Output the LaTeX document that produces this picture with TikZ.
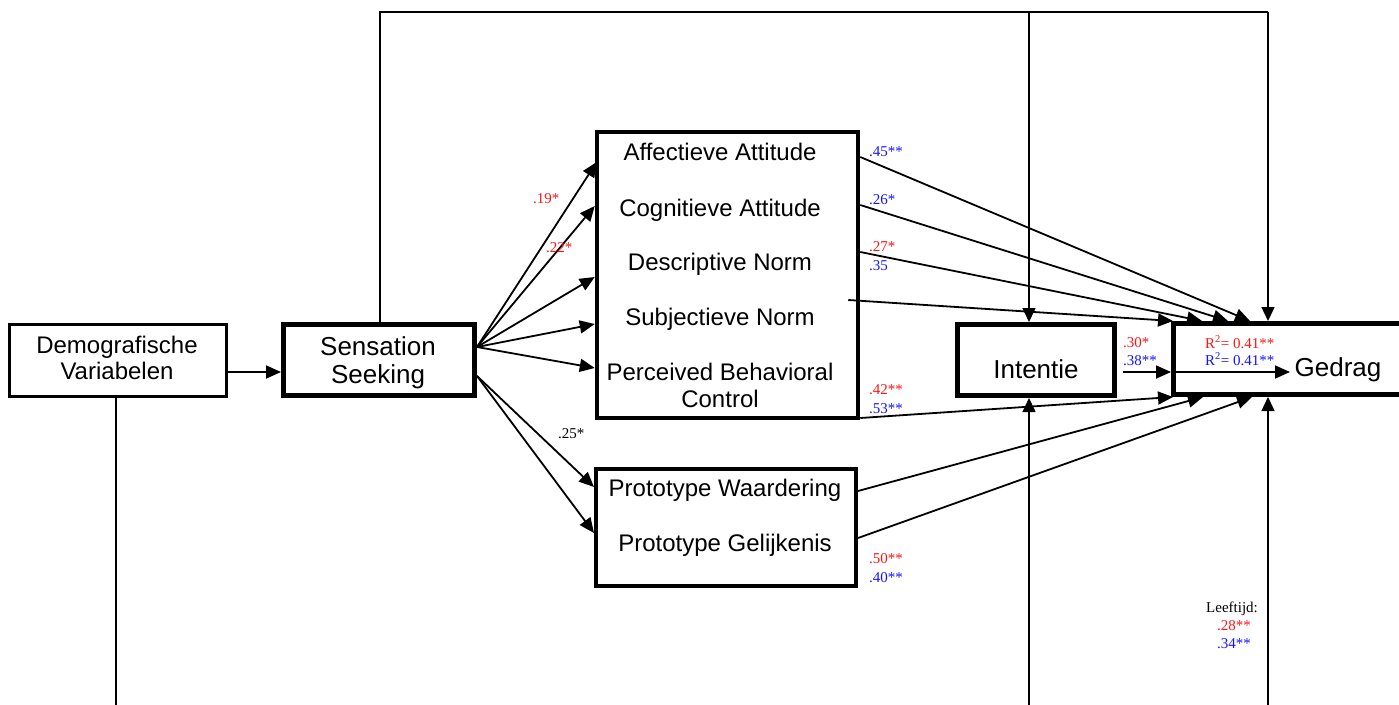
\documentclass[tikz,border=0pt]{standalone}
\usepackage{fontspec}
\setmainfont{Liberation Sans}
\newfontfamily\tms{Liberation Serif}
\usetikzlibrary{arrows.meta,calc}
\definecolor{lred}{RGB}{255,20,20}
\definecolor{lblue}{RGB}{20,20,255}
\begin{document}
\begin{tikzpicture}[x=1pt,y=-1pt,
  box/.style={draw, rectangle, inner sep=0pt, fill=white},
  txt/.style={font=\fontsize{24}{26}\selectfont, inner sep=0pt, anchor=base},
  bigtxt/.style={font=\fontsize{26}{28}\selectfont, inner sep=0pt, anchor=base},
  lab/.style={font=\tms\fontsize{15}{18}\selectfont, inner sep=0pt, anchor=base west},
  labc/.style={font=\tms\fontsize{15}{18}\selectfont, inner sep=0pt, anchor=base},
  arr/.style={-{Triangle[length=15pt,width=13pt]}, line width=1.8pt},
  lnarr/.style={-{Triangle[length=14pt,width=13pt]}, line width=1.5pt},
  ln/.style={line width=1.5pt}]
\useasboundingbox (0,0) rectangle (1399,704);
\clip (0,0) rectangle (1399,704);

% boxes
\node[box, line width=3pt, minimum width=217pt, minimum height=72pt] (demo) at (118,360) {};
\node[box, line width=5pt, minimum width=191pt, minimum height=71pt] (ss) at (379,360) {};
\node[box, line width=4.5pt, minimum width=261pt, minimum height=286pt] (att) at (727.5,275) {};
\node[box, line width=4pt, minimum width=260pt, minimum height=117pt] (proto) at (726,527.5) {};
\node[box, line width=5pt, minimum width=157pt, minimum height=71pt] (int) at (1036,360) {};
\node[box, line width=5pt, minimum width=247pt, minimum height=71pt] (ged) at (1297,359) {};

% texts
\node[txt] (demoA) at (117,353) {Demografische};
\node[txt] (demoB) at (117,379) {Variabelen};
\node[bigtxt] (ssA) at (378,355) {Sensation};
\node[bigtxt] (ssB) at (378,383) {Seeking};
\node[txt] (aa) at (720,160) {Affectieve Attitude};
\node[txt] (ca) at (720,216) {Cognitieve Attitude};
\node[txt] (dn) at (720,270) {Descriptive Norm};
\node[txt] (sn) at (720,325) {Subjectieve Norm};
\node[txt] (pbA) at (720,380) {Perceived Behavioral};
\node[txt] (pbB) at (720,407) {Control};
\node[txt] (pw) at (725,496) {Prototype Waardering};
\node[txt] (pg) at (725,551) {Prototype Gelijkenis};
\node[bigtxt] (intT) at (1036,378) {Intentie};
\node[bigtxt] (gedT) at (1338,376) {Gedrag};

% coordinates for free ends
\coordinate (topL) at (380,12);
\coordinate (topI) at (1029,12);
\coordinate (topG) at (1268,12);
\coordinate (botD) at (116,708);
\coordinate (botI) at (1029,708);
\coordinate (botG) at (1268,708);

% demo -> sensation
\draw[arr] ($(demo.east)+(0,12)$) -- ($(ss.west)+(0,12)$);

% fan from sensation seeking
\coordinate (f1) at ($(ss.east)+(0,-13)$);
\coordinate (f2) at ($(ss.east)+(0,16)$);
\draw[arr] (f1) -- ($(att.west)+(2,-113)$);
\draw[arr] (f1) -- ($(att.west)+(0,-69)$);
\draw[arr] (f1) -- ($(att.west)+(0,2)$);
\draw[arr] (f1) -- ($(att.west)+(0,49)$);
\draw[arr] (f1) -- ($(att.west)+(0,93)$);
\draw[arr] (f2) -- ($(proto.west)+(0,-40.5)$);
\draw[arr] (f2) -- ($(proto.west)+(0,5.5)$);

% to gedrag
\draw[arr] ($(att.east)+(0,-118)$) -- ($(ged.north west)+(79,0)$);
\draw[arr] ($(att.east)+(0,-70)$) -- ($(ged.north west)+(57,0)$);
\draw[arr] ($(att.east)+(0,-23)$) -- ($(ged.north west)+(31,0)$);
\draw[arr] ($(att.east)+(-12,25)$) -- ($(ged.north west)+(2,0)$);
\draw[arr] ($(att.east)+(0,143)$) -- ($(ged.south west)+(2,0)$);
\draw[arr] ($(proto.east)+(0,-36.5)$) -- ($(ged.south west)+(32,0)$);
\draw[arr] ($(proto.east)+(0,10.5)$) -- ($(ged.south west)+(81,0)$);

% intentie -> gedrag
\draw[arr] ($(int.east)+(6,12)$) -- ($(ged.west)+(0,13)$);
\draw[arr] ($(ged.west)+(0,13)$) -- ($(ged.west)+(119,13)$);

% top loop
\draw[ln] (ss.north -| topL) -- (topL) -- (topG);
\draw[lnarr] (topI) -- (int.north -| topI);
\draw[lnarr] (topG) -- (ged.north -| topG);

% bottom lines
\draw[ln] (demo.south -| botD) -- (botD);
\draw[lnarr] (botI) -- (int.south -| botI);
\draw[lnarr] (botG) -- (ged.south -| botG);

% labels
\node[lab, text=lred] (l19) at (533,203) {.19*};
\node[lab, text=lred] (l22) at (546,252) {.22*};
\node[lab] (l25) at (558,438) {.25*};
\node[lab, text=lblue] (l45) at (869,156) {.45**};
\node[lab, text=lblue] (l26) at (869,204) {.26*};
\node[lab, text=lred] (l27) at (869,251) {.27*};
\node[lab, text=lblue] (l35) at (869,270) {.35};
\node[lab, text=lred] (l42) at (869,394) {.42**};
\node[lab, text=lblue] (l53) at (869,413) {.53**};
\node[lab, text=lred] (l50) at (869,563) {.50**};
\node[lab, text=lblue] (l40) at (869,582) {.40**};
\node[lab, text=lred] (l30) at (1123,347) {.30*};
\node[lab, text=lblue] (l38) at (1123,365) {.38**};
\node[lab, text=lred] (r2a) at (1205,348) {R\textsuperscript{2}= 0.41**};
\node[lab, text=lblue] (r2b) at (1205,365) {R\textsuperscript{2}= 0.41**};
\node[labc] (leef) at (1232,612) {Leeftijd:};
\node[labc, text=lred] (l28) at (1234,630) {.28**};
\node[labc, text=lblue] (l34) at (1234,648) {.34**};
\end{tikzpicture}
\end{document}
